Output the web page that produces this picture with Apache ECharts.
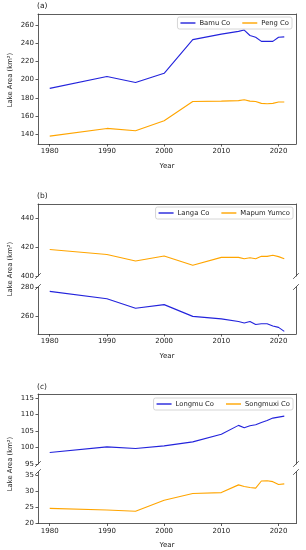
<!DOCTYPE html>
<html><head><meta charset="utf-8">
<script src="https://cdn.jsdelivr.net/npm/echarts@6/dist/echarts.min.js"></script>
<style>html,body{margin:0;padding:0;background:#fff;}#c{width:306px;height:550px;}</style>
</head><body><div id="c"></div>
<script>
const years = [1980,1990,1995,2000,2005,2010,2013,2014,2015,2016,2017,2018,2019,2020,2021];
const bamuCo   = [190.5,203.5,197,207,244,250,253,254.5,248.5,246.5,242,242,242,246.5,247];
const pengCo   = [138,146.5,144,155,176,176.5,177,178,176.5,176,174,173.5,174,175.5,175.5];
const langaCo  = [277,272,265.5,268,260,258.3,256.5,255.5,256.5,254.5,255,255,253.5,252.5,249.8];
const mapumYumco = [418.5,415,410.5,414,407.5,413,413,412,412.7,412,413.7,413.7,414.5,413.5,412];
const longmuCo = [98.5,100.2,99.7,100.5,101.7,104,106.7,106,106.6,106.9,107.6,108.2,108.9,109.2,109.5];
const songmuxiCo = [24.7,24.2,23.8,27.2,29.3,29.6,32,31.5,31.2,31,33.2,33.3,33,32.1,32.3];
const xTicks = [1980,1990,2000,2010,2020];
const yTicksA = [140,160,180,200,220,240,260];
const yTicksBTop = [400,420,440];
const yTicksBBot = [260,280];
const yTicksCTop = [95,100,105,110,115];
const yTicksCBot = [20,25,30,35];
const panelTitles = ['(a)','(b)','(c)'];
const yName = 'Lake Area (km²)';

const FONT = 'DejaVu Sans';
const BLUE = '#2323dc', ORANGE = '#ffa500', SPINE = '#333';
const pair = (ys) => years.map((y,i)=>[y, ys[i]]);
const fmt = v => String(v);

const grids = [
  {top:14, height:130},
  {top:204, height:72},
  {top:287, height:47},
  {top:394, height:70},
  {top:472, height:53}
];
const yRanges = [[129.4,272.1],[400,450.2],[248,280],[95,116.2],[20,36]];
const yTicks = [yTicksA,yTicksBTop,yTicksBBot,yTicksCTop,yTicksCBot];
const hasBottom = [true,false,true,false,true];
const hasTop = [true,true,false,true,false];

const gridOpt = grids.map(g=>({left:38, width:258, top:g.top, height:g.height, containLabel:false}));
const xAxes = [], yAxes = [];
grids.forEach((g,i)=>{
  xAxes.push({type:'value', gridIndex:i, min:1977.95, max:2023.05, position:'bottom',
    axisLine:{show:hasBottom[i], onZero:false, lineStyle:{color:SPINE,width:0.8}},
    axisTick:{show:hasBottom[i], length:2.5, customValues:xTicks, lineStyle:{color:SPINE,width:0.8}},
    axisLabel:{show:hasBottom[i], customValues:xTicks, formatter:fmt, fontFamily:FONT, fontSize:7, color:'#222', margin:4},
    splitLine:{show:false},
    name: hasBottom[i] ? 'Year' : '', nameLocation:'middle', nameGap:18.5,
    nameTextStyle:{fontFamily:FONT, fontSize:7, color:'#222'}
  });
});
grids.forEach((g,i)=>{
  xAxes.push({type:'value', gridIndex:i, min:1977.95, max:2023.05, position:'top',
    axisLine:{show:hasTop[i], onZero:false, lineStyle:{color:SPINE,width:0.8}},
    axisTick:{show:false}, axisLabel:{show:false}, splitLine:{show:false}});
});
grids.forEach((g,i)=>{
  yAxes.push({type:'value', gridIndex:i, min:yRanges[i][0], max:yRanges[i][1], position:'left',
    axisLine:{show:true, onZero:false, lineStyle:{color:SPINE,width:0.8}},
    axisTick:{show:true, length:2.5, customValues:yTicks[i], lineStyle:{color:SPINE,width:0.8}},
    axisLabel:{customValues:yTicks[i], formatter:fmt, fontFamily:FONT, fontSize:7, color:'#222', margin:4},
    splitLine:{show:false}});
});
grids.forEach((g,i)=>{
  yAxes.push({type:'value', gridIndex:i, min:yRanges[i][0], max:yRanges[i][1], position:'right',
    axisLine:{show:true, onZero:false, lineStyle:{color:SPINE,width:0.8}},
    axisTick:{show:false}, axisLabel:{show:false}, splitLine:{show:false}});
});

const mk = (name, data, color, gi) => ({
  name, type:'line', data:pair(data), xAxisIndex:gi, yAxisIndex:gi,
  showSymbol:false, symbol:'none', lineStyle:{color, width:1.1}, itemStyle:{color},
  silent:true, animation:false, clip:true
});
const series = [
  mk('Bamu Co', bamuCo, BLUE, 0),
  mk('Peng Co', pengCo, ORANGE, 0),
  mk('Mapum Yumco', mapumYumco, ORANGE, 1),
  mk('Langa Co', langaCo, BLUE, 2),
  mk('Longmu Co', longmuCo, BLUE, 3),
  mk('Songmuxi Co', songmuxiCo, ORANGE, 4)
];

const legendBase = {orient:'horizontal', icon:'rect', itemWidth:15, itemHeight:1.4, itemGap:12,
  padding:[2.5,3,2.5,3], borderColor:'#ccc', borderWidth:0.8, borderRadius:2, backgroundColor:'#fff',
  textStyle:{fontFamily:FONT, fontSize:6.8, color:'#222', padding:[0,0,0,-1]}, selectedMode:false};
const legends = [
  Object.assign({}, legendBase, {data:['Bamu Co','Peng Co'], right:14, top:17}),
  Object.assign({}, legendBase, {data:['Langa Co','Mapum Yumco'], right:13, top:207}),
  Object.assign({}, legendBase, {data:['Longmu Co','Songmuxi Co'], right:13, top:398})
];

const graphic = [];
[[37,7],[37,197],[37,388]].forEach((p,i)=>{
  graphic.push({type:'text', left:p[0], top:p[1]-5, style:{text:panelTitles[i], font:'7.5px "DejaVu Sans"', fill:'#222'}});
});
[[10,80],[10,269],[10,464]].forEach(p=>{
  graphic.push({type:'text', x:p[0], y:p[1], rotation:Math.PI/2,
    style:{text:yName, font:'6.8px "DejaVu Sans"', fill:'#222', align:'center', verticalAlign:'middle'}});
});
[276,287,464,472].forEach(y=>{
  [38,296].forEach(x=>{
    graphic.push({type:'line', shape:{x1:x-2.8,y1:y+2.8,x2:x+2.8,y2:y-2.8}, style:{stroke:SPINE, lineWidth:0.8}});
  });
});

const chart = echarts.init(document.getElementById('c'), null, {renderer:'canvas'});
chart.setOption({animation:false, backgroundColor:'#fff', grid:gridOpt, xAxis:xAxes, yAxis:yAxes,
  series, legend:legends, graphic});
</script></body></html>
